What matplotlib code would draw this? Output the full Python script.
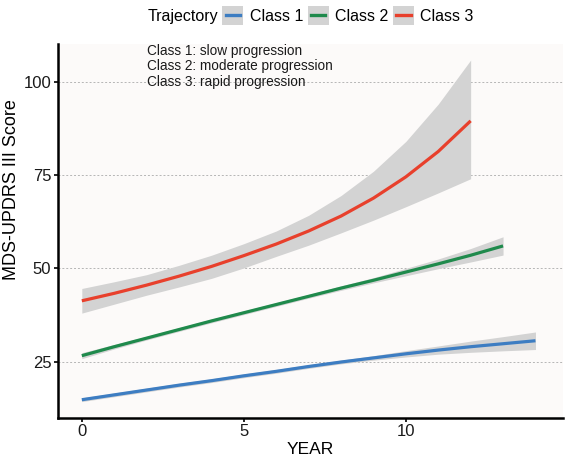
import matplotlib
matplotlib.use("Agg")
import matplotlib.pyplot as plt
import numpy as np
from matplotlib.patches import Rectangle
from matplotlib.lines import Line2D
from matplotlib.legend_handler import HandlerBase

plt.rcParams['font.family'] = ['Liberation Sans', 'DejaVu Sans']

# ---- data ----
c1_x = [0, 1, 2, 3, 4, 5, 6, 7, 8, 9, 10, 11, 12, 13, 14]
c1_y = [14.8, 16.1, 17.4, 18.7, 19.9, 21.2, 22.4, 23.7, 24.9, 26.0, 27.1, 28.1, 29.0, 29.8, 30.6]
c1_lo = [14.3, 15.6, 16.9, 18.2, 19.4, 20.7, 21.9, 23.2, 24.4, 25.4, 26.25, 27.0, 27.5, 27.9, 28.25]
c1_hi = [15.3, 16.6, 17.9, 19.2, 20.4, 21.7, 22.9, 24.2, 25.4, 26.6, 27.95, 29.2, 30.5, 31.7, 32.95]

c2_x = [0, 1, 2, 3, 4, 5, 6, 7, 8, 9, 10, 11, 12, 13]
c2_y = [26.6, 29.0, 31.3, 33.6, 35.9, 38.1, 40.3, 42.5, 44.7, 46.8, 49.0, 51.2, 53.5, 56.0]
c2_lo = [25.8, 28.4, 30.8, 33.1, 35.4, 37.6, 39.8, 42.0, 44.1, 46.1, 48.0, 49.9, 51.7, 53.55]
c2_hi = [27.4, 29.6, 31.8, 34.1, 36.4, 38.6, 40.8, 43.0, 45.3, 47.5, 50.0, 52.5, 55.3, 58.45]

c3_x = [0, 1, 2, 3, 4, 5, 6, 7, 8, 9, 10, 11, 12]
c3_y = [41.3, 43.3, 45.5, 47.9, 50.5, 53.4, 56.5, 60.0, 64.0, 68.8, 74.5, 81.3, 89.5]
c3_lo = [38.0, 40.4, 42.8, 45.0, 47.3, 50.1, 53.2, 56.2, 59.5, 62.9, 66.5, 70.2, 74.0]
c3_hi = [44.6, 46.4, 48.3, 50.8, 53.5, 56.6, 60.0, 64.2, 69.5, 76.0, 84.0, 94.0, 105.8]

labels = ["Class 1", "Class 2", "Class 3"]
colors = ["#3D7DC2", "#1F8A4C", "#E8402C"]
notes = ["Class 1: slow progression", "Class 2: moderate progression", "Class 3: rapid progression"]
xticks = [0, 5, 10]
yticks = [25, 50, 75, 100]

fig = plt.figure(figsize=(5.66, 4.62), dpi=100)
ax = fig.add_axes([0.1016, 0.0952, 0.8931, 0.8096])
ax.set_facecolor("#FCFAF9")

series = [(c1_x, c1_y, c1_lo, c1_hi), (c2_x, c2_y, c2_lo, c2_hi), (c3_x, c3_y, c3_lo, c3_hi)]
for (x, y, lo, hi) in series:
    ax.fill_between(x, lo, hi, color="#D3D3D3", lw=0, zorder=2)
for (x, y, lo, hi), col in zip(series, colors):
    ax.plot(x, y, color=col, lw=2.3, zorder=3, solid_capstyle='butt', solid_joinstyle='round')

ax.set_xlim(-0.75, 14.85)
ax.set_ylim(9.9, 110.1)
ax.set_xticks(xticks)
ax.set_yticks(yticks)
ax.yaxis.grid(True, color="#B5B5B5", ls=(0, (2, 2)), lw=0.7, zorder=1)
ax.set_axisbelow(True)
for s in ["top", "right"]:
    ax.spines[s].set_visible(False)
for s in ["left", "bottom"]:
    ax.spines[s].set_linewidth(1.8)
ax.tick_params(axis='both', length=3, width=1.2, labelsize=12, color="black", labelcolor="#1a1a1a")
ax.tick_params(axis='x', pad=1.5)
ax.tick_params(axis='y', pad=1.5)
ax.set_xlabel("YEAR", fontsize=12.5, labelpad=2)
ax.set_ylabel("MDS-UPDRS III Score", fontsize=13)
ax.yaxis.set_label_coords(-0.074, 0.61)

for i, t in enumerate(notes):
    ax.text(0.177, 0.982 - i * 0.042, t, transform=ax.transAxes, fontsize=9.8, va='center', ha='left', color="#1a1a1a")


class KeyHandler(HandlerBase):
    def create_artists(self, legend, orig_handle, xdescent, ydescent, width, height, fontsize, trans):
        r = Rectangle((-xdescent, -ydescent - 0.2 * height), width, height * 1.4, facecolor="#D3D3D3", edgecolor='none', transform=trans)
        yc = -ydescent + height / 2
        l = Line2D([-xdescent + 0.15 * width, -xdescent + 0.85 * width], [yc, yc], color=orig_handle.get_color(), lw=2.4, transform=trans)
        return [r, l]


handles = [Line2D([], [], color=c) for c in colors]
fig.text(0.26, 0.965, "Trajectory", fontsize=11.5, va='center', ha='left')
leg = fig.legend(handles, labels, handler_map={Line2D: KeyHandler()}, loc='center left',
                 bbox_to_anchor=(0.393, 0.965), ncol=3, frameon=False, fontsize=11.5,
                 handlelength=1.3, handleheight=0.9, handletextpad=0.4, columnspacing=0.3, borderpad=0, borderaxespad=0)

fig.savefig("out.png", dpi=100)
